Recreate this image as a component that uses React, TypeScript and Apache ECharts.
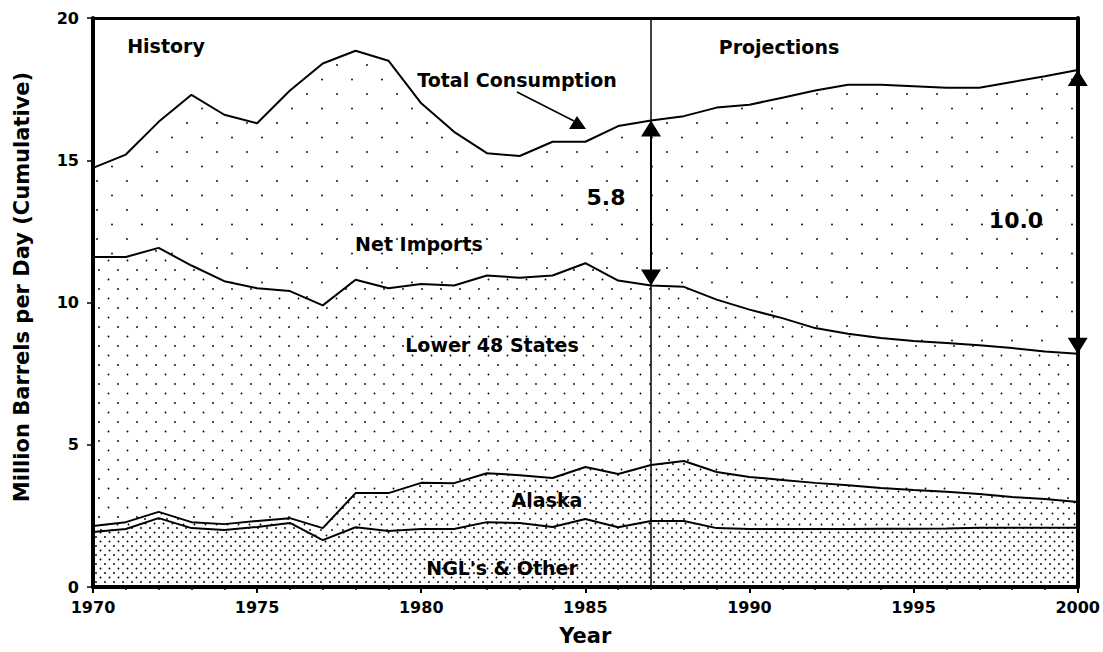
import React, { useEffect, useRef } from "react";
import * as echarts from "echarts";

const years = [1970,1971,1972,1973,1974,1975,1976,1977,1978,1979,1980,1981,1982,1983,1984,1985,1986,1987,1988,1989,1990,1991,1992,1993,1994,1995,1996,1997,1998,1999,2000];
// cumulative levels (million barrels per day)
const totalConsumption = [14.73,15.2,16.35,17.3,16.6,16.3,17.45,18.4,18.85,18.5,17.0,16.0,15.25,15.15,15.65,15.65,16.2,16.4,16.55,16.85,16.95,17.2,17.45,17.65,17.65,17.6,17.55,17.55,17.75,17.95,18.17];
const lower48Top = [11.6,11.6,11.92,11.3,10.75,10.5,10.4,9.9,10.8,10.5,10.65,10.6,10.95,10.87,10.95,11.38,10.77,10.6,10.55,10.1,9.75,9.45,9.1,8.9,8.75,8.65,8.58,8.5,8.4,8.28,8.2];
const alaskaTop = [2.14,2.28,2.64,2.28,2.21,2.32,2.42,2.07,3.3,3.3,3.66,3.65,4.0,3.93,3.83,4.22,3.97,4.29,4.43,4.04,3.87,3.76,3.66,3.58,3.48,3.41,3.35,3.27,3.16,3.09,2.99];
const nglTop = [1.93,2.04,2.42,2.07,2.0,2.11,2.25,1.65,2.1,1.97,2.04,2.04,2.28,2.25,2.11,2.39,2.1,2.32,2.32,2.07,2.04,2.04,2.04,2.04,2.05,2.05,2.06,2.08,2.08,2.08,2.08];
const xTicks = { min: 1970, max: 2000, interval: 5 };
const yTicks = { min: 0, max: 20, interval: 5 };
const splitYear = 1987;

const FONT = '"DejaVu Sans", sans-serif';

function makePattern(w: number, h: number, dots: number[][], size: number) {
  const c = document.createElement("canvas");
  c.width = w;
  c.height = h;
  const ctx = c.getContext("2d")!;
  ctx.fillStyle = "#fff";
  ctx.fillRect(0, 0, w, h);
  ctx.fillStyle = "#000";
  dots.forEach(([x, y]) => {
    ctx.beginPath();
    ctx.arc(x, y, size / 2, 0, Math.PI * 2);
    ctx.fill();
  });
  return { image: c, repeat: "repeat", imageWidth: w, imageHeight: h } as any;
}

export default function App() {
  const ref = useRef<HTMLDivElement>(null);
  useEffect(() => {
    document.body.style.margin = "0";
    const chart = echarts.init(ref.current!, null, { renderer: "svg" });
    const pSparse = makePattern(30, 29, [[7, 7], [22, 21.5]], 1.8);
    const pLower = makePattern(19, 19, [[4, 4], [13.5, 13.5]], 1.8);
    const pAlaska = makePattern(11, 11, [[2, 2], [7.5, 7.5]], 1.8);
    const pNgl = makePattern(9, 9, [[1.5, 1.5], [6, 6]], 1.9);

    const pxPerUnit = (652 - 65 - 18) / 20;
    const half = 8 / pxPerUnit;
    const i87 = years.indexOf(splitYear);
    const iLast = years.length - 1;

    const mk = (vals: number[]) => years.map((y, i) => [y, vals[i]]);
    const base = (name: string, vals: number[], pat: any) => ({
      name,
      type: "line",
      data: mk(vals),
      symbol: "none",
      smooth: false,
      lineStyle: { color: "#000", width: 2 },
      areaStyle: { color: pat, opacity: 1 },
      silent: true,
      emphasis: { disabled: true },
    });

    const textEl = (text: string, x: number, y: number, size = 19) => ({
      type: "text",
      x,
      y,
      z: 100,
      style: {
        text,
        fill: "#000",
        font: `bold ${size}px ${FONT}`,
        align: "center",
        verticalAlign: "middle",
      },
    });

    const plain = (v: number) => String(v);

    chart.setOption({
      animation: false,
      textStyle: { fontFamily: FONT },
      grid: { left: 93, right: 25, top: 18, bottom: 65 },
      xAxis: [
        {
          type: "value",
          min: xTicks.min,
          max: xTicks.max,
          interval: xTicks.interval,
          position: "bottom",
          z: 10,
          axisLine: { onZero: false, lineStyle: { color: "#000", width: 4 } },
          axisTick: { length: 6, lineStyle: { color: "#000", width: 2 } },
          minorTick: { show: true, splitNumber: 5, length: 3, lineStyle: { color: "#000", width: 1.5 } },
          splitLine: { show: false },
          axisLabel: { color: "#000", fontWeight: "bold", fontSize: 16, margin: 12, fontFamily: FONT, formatter: plain },
          name: "Year",
          nameLocation: "middle",
          nameGap: 38,
          nameTextStyle: { color: "#000", fontWeight: "bold", fontSize: 21, fontFamily: FONT },
        },
        {
          type: "value",
          min: xTicks.min,
          max: xTicks.max,
          interval: xTicks.interval,
          position: "top",
          z: 10,
          axisLine: { onZero: false, lineStyle: { color: "#000", width: 3 } },
          axisTick: { show: false },
          axisLabel: { show: false },
          splitLine: { show: false },
        },
      ],
      yAxis: [
        {
          type: "value",
          min: yTicks.min,
          max: yTicks.max,
          interval: yTicks.interval,
          position: "left",
          z: 10,
          axisLine: { show: true, onZero: false, lineStyle: { color: "#000", width: 4 } },
          axisTick: { show: true, length: 6, lineStyle: { color: "#000", width: 1.5 } },
          splitLine: { show: false },
          axisLabel: { color: "#000", fontWeight: "bold", fontSize: 16, margin: 14, fontFamily: FONT, formatter: plain },
        },
        {
          type: "value",
          min: yTicks.min,
          max: yTicks.max,
          interval: yTicks.interval,
          position: "right",
          z: 10,
          axisLine: { show: true, onZero: false, lineStyle: { color: "#000", width: 4 } },
          axisTick: { show: false },
          axisLabel: { show: false },
          splitLine: { show: false },
        },
      ],
      series: [
        base("Net Imports", totalConsumption, pSparse),
        base("Lower 48 States", lower48Top, pLower),
        {
          ...base("Alaska", alaskaTop, pAlaska),
          markLine: {
            silent: true,
            symbol: ["none", "none"],
            label: { show: false },
            lineStyle: { color: "#000", width: 1.5, type: "solid" },
            data: [{ xAxis: splitYear }],
          },
        },
        {
          ...base("NGL's & Other", nglTop, pNgl),
          markLine: {
            silent: true,
            symbol: ["triangle", "triangle"],
            symbolSize: [20, 16],
            label: { show: false },
            lineStyle: { color: "#000", type: "solid" },
            data: [
              [
                { coord: [splitYear, totalConsumption[i87] - half], lineStyle: { width: 2, color: "#000", type: "solid" } },
                { coord: [splitYear, lower48Top[i87] + half] },
              ],
              [
                { coord: [years[iLast], totalConsumption[iLast] - half], lineStyle: { width: 4, color: "#000", type: "solid" } },
                { coord: [years[iLast], lower48Top[iLast] + half] },
              ],
            ],
          },
        },
      ],
      graphic: [
        textEl("History", 166, 46),
        textEl("Projections", 779, 47),
        textEl("Total Consumption", 517, 80),
        textEl("Net Imports", 419, 244),
        textEl("Lower 48 States", 492, 345),
        textEl("Alaska", 547, 500),
        textEl("NGL's & Other", 502, 568),
        textEl("5.8", 606, 197, 22),
        textEl("10.0", 1016, 220, 22),
        {
          type: "line",
          z: 100,
          shape: { x1: 517, y1: 92, x2: 574, y2: 121 },
          style: { stroke: "#000", lineWidth: 1.5 },
        },
        {
          type: "polygon",
          z: 100,
          shape: { points: [[577, 116], [569, 129], [586, 129]] },
          style: { fill: "#000" },
        },
        {
          type: "text",
          x: 22,
          y: 287,
          rotation: Math.PI / 2,
          z: 100,
          style: {
            text: "Million Barrels per Day (Cumulative)",
            fill: "#000",
            font: `bold 21px ${FONT}`,
            align: "center",
            verticalAlign: "middle",
          },
        },
      ],
    });
    return () => chart.dispose();
  }, []);
  return (
    <div
      ref={ref}
      style={{ width: 1103, height: 652, position: "absolute", left: 0, top: 0, background: "#fff" }}
    />
  );
}
